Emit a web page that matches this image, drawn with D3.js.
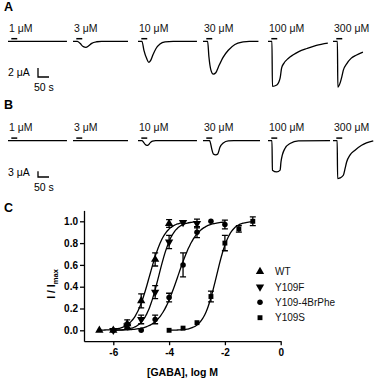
<!DOCTYPE html>
<html><head><meta charset="utf-8">
<script src="https://cdn.jsdelivr.net/npm/d3@7"></script>
<style>
html,body{margin:0;padding:0;background:#fff;}
svg{display:block;font-family:"Liberation Sans",Arial,sans-serif;}
</style></head>
<body>
<svg id="c" width="374" height="378"></svg>
<script>
// ---------- Panels A & B: current traces (time s, current μA) ----------
const concentrations = ["1 μM","3 μM","10 μM","30 μM","100 μM","300 μM"];

const traceA_1   = [[0,0],[268,0]];
const traceA_3   = [[0,0],[20,0],[32,-0.45],[47,-1.2],[59,-1.35],[70,-1.05],[85,-0.45],[108,-0.1],[130,0],[250,0]];
const traceA_10  = [[0,0],[18,0],[27,-2.0],[40,-3.9],[49,-4.7],[57,-4.3],[68,-3.0],[82,-1.6],[100,-0.6],[123,-0.15],[160,0],[268,0]];
const traceA_30  = [[0,0],[21,0],[27,-3.5],[36,-6.4],[47,-7.3],[58,-7.0],[70,-5.7],[92,-3.5],[115,-2.0],[145,-0.7],[183,-0.15],[210,0],[252,0]];
const traceA_100 = [[0,0],[18,0],[20,-10],[40,-9.7],[55,-8.2],[62,-5.9],[72,-4.9],[92,-3.8],[115,-3.0],[140,-2.3],[177,-1.6],[220,-0.9],[272,-0.4]];
const traceA_300 = [[0,0],[20,0],[22,-10.2],[32,-9.3],[40,-7.9],[47,-6.4],[62,-5.0],[82,-3.8],[105,-3.1],[136,-2.4]];

const traceB_1   = [[0,0],[268,0]];
const traceB_3   = [[0,0],[250,0]];
const traceB_10  = [[0,0],[18,0],[25,-0.8],[33,-2.0],[40,-2.5],[48,-2.1],[56,-1.0],[66,-0.25],[80,0],[268,0]];
const traceB_30  = [[0,0],[30,0],[40,-4.4],[47,-7.0],[58,-7.5],[67,-7.0],[77,-3.5],[92,-1.2],[115,-0.1],[140,0],[259,0]];
const traceB_100 = [[0,0],[18,0],[20,-15.5],[40,-16.4],[55,-15.5],[59,-11.2],[65,-7.6],[77,-4.1],[100,-1.5],[138,-0.1],[282,0]];
const traceB_300 = [[0,0],[19,0],[21,-19.9],[32,-19.6],[47,-18.2],[55,-14.6],[62,-11.2],[77,-7.6],[100,-5.0],[130,-2.4],[183,-0.1]];

const tracesA = [traceA_1,traceA_3,traceA_10,traceA_30,traceA_100,traceA_300];
const tracesB = [traceB_1,traceB_3,traceB_10,traceB_30,traceB_100,traceB_300];
const applicationBar = [15, 42];   // seconds
const scaleBarA = {current: 2, time: 50, label: "2 μA"};
const scaleBarB = {current: 3, time: 50, label: "3 μA"};

// ---------- Panel C: dose-response ----------
const seriesNames = ["WT","Y109F","Y109-4BrPhe","Y109S"];
const wtLogC   = [-6.5,-6,-5.5,-5,-4.5,-4];
const wtMean   = [0.0,0.0,0.06,0.27,0.65,0.98];
const wtSem    = [0,0,0.035,0.065,0.06,0.035];
const fLogC    = [-6,-5.5,-5,-4.5,-4,-3.5,-3];
const fMean    = [0.0,0.04,0.10,0.35,0.81,0.99,0.98];
const fSem     = [0,0.025,0.04,0.06,0.06,0,0.04];
const brLogC   = [-6,-5,-4.5,-4,-3.5,-3,-2.5,-2];
const brMean   = [0.0,0.0,0.10,0.30,0.60,0.90,1.0,0.97];
const brSem    = [0,0,0.04,0.04,0.11,0.05,0,0.04];
const sLogC    = [-4,-3.5,-3,-2.5,-2,-1.5,-1];
const sMean    = [0.0,0.02,0.07,0.31,0.80,0.93,1.0];
const sSem     = [0,0,0,0.05,0.07,0.03,0.04];
// Hill fit parameters: [logEC50, Hill slope, x from, x to]
const fitWT = [-4.7,1.6,-6.5,-3.5];
const fitF  = [-4.37,1.75,-6,-3];
const fitBr = [-3.68,1.3,-6,-2];
const fitS  = [-2.3,1.85,-4,-1];
const xTicks = [-6,-4,-2,0];
const yTicks = [0,0.2,0.4,0.6,0.8,1.0];

const svg = d3.select("#c");
const FONT = '"Liberation Sans",Arial,sans-serif';

// panel letters
[["A",11],["B",109],["C",212]].forEach(([t,y])=>{
  svg.append("text").attr("x",4).attr("y",y).attr("font-size",12.5).attr("font-weight","bold").text(t);
});

const tScale = d3.scaleLinear().domain([0,50]).range([0,11]);
const xOffset = d3.scalePoint().domain(concentrations).range([8,333]);

function drawTraces(traces, base, yScale, labelY, sb, sbY){
  const g = svg.append("g");
  traces.forEach((tr,i)=>{
    const off = xOffset(concentrations[i]);
    const line = d3.line().x(d=>off+tScale(d[0])).y(d=>yScale(d[1])).curve(d3.curveMonotoneX);
    g.append("path").attr("d",line(tr)).attr("fill","none").attr("stroke","#000").attr("stroke-width",1.3);
    g.append("line").attr("x1",off+tScale(applicationBar[0])).attr("x2",off+tScale(applicationBar[1]))
      .attr("y1",base-2.6).attr("y2",base-2.6).attr("stroke","#000").attr("stroke-width",1.5);
    g.append("text").attr("x",off+1).attr("y",labelY).attr("font-size",10.5).attr("fill","#111").text(concentrations[i]);
  });
  // scale bar
  const sx = 38, sy = sbY;
  const h = yScale(-sb.current)-yScale(0);
  const w = tScale(sb.time);
  g.append("path").attr("d",`M${sx},${sy-h}V${sy}H${sx+w}`).attr("fill","none").attr("stroke","#000").attr("stroke-width",1.3);
  g.append("text").attr("x",8).attr("y",sy-1).attr("font-size",10.5).text(sb.label);
  g.append("text").attr("x",34).attr("y",sy+14).attr("font-size",10.5).text(sb.time+" s");
}
const yA = d3.scaleLinear().domain([0,-2]).range([41.3,50.3]);
const yB = d3.scaleLinear().domain([0,-3]).range([140.7,146.4]);
drawTraces(tracesA, 41.3, yA, 32, scaleBarA, 77);
drawTraces(tracesB, 140.7, yB, 131, scaleBarB, 177);

// ---------- Panel C ----------
const x = d3.scaleLinear().domain([-7.05,0]).range([84,280.7]);
const y = d3.scaleLinear().domain([-0.1,1.1]).range([341.2,210.4]);
const gC = svg.append("g");

const xAxis = gC.append("g").attr("transform",`translate(0,${y(-0.1)})`)
  .call(d3.axisBottom(x).tickValues(xTicks).tickSize(4).tickSizeOuter(0).tickPadding(4).tickFormat(d3.format("d")));
const yAxis = gC.append("g").attr("transform",`translate(${x(-7.05)},0)`)
  .call(d3.axisLeft(y).tickValues(yTicks).tickSize(4).tickSizeOuter(0).tickPadding(2).tickFormat(d3.format(".1f")));
[xAxis,yAxis].forEach(a=>{
  a.selectAll("path,line").attr("stroke","#000").attr("stroke-width",1.3);
  a.selectAll("text").attr("font-family",FONT).attr("font-size",10).attr("font-weight","bold").attr("fill","#000");
});
xAxis.selectAll("text").text(d=> d<0 ? "-"+Math.abs(d) : d);

gC.append("text").attr("x",182.5).attr("y",376).attr("text-anchor","middle")
  .attr("font-size",10.5).attr("font-weight","bold").text("[GABA], log M");
const yt = gC.append("text").attr("transform","translate(55,284) rotate(-90)").attr("text-anchor","middle")
  .attr("font-size",10.5).attr("font-weight","bold");
yt.append("tspan").text("I / I");
yt.append("tspan").attr("font-size",7.5).attr("dy",2.5).text("max");

const hill = (p,xv)=>1/(1+Math.pow(10,(p[0]-xv)*p[1]));
const series = [
  {name:seriesNames[0], lc:wtLogC, m:wtMean, s:wtSem, fit:fitWT, sym:d3.symbolTriangle, rot:0, size:30},
  {name:seriesNames[1], lc:fLogC,  m:fMean,  s:fSem,  fit:fitF,  sym:d3.symbolTriangle, rot:180, size:30},
  {name:seriesNames[2], lc:brLogC, m:brMean, s:brSem, fit:fitBr, sym:d3.symbolCircle, rot:0, size:24},
  {name:seriesNames[3], lc:sLogC,  m:sMean,  s:sSem,  fit:fitS,  sym:d3.symbolSquare, rot:0, size:24},
];
const curveLine = d3.line().x(d=>x(d[0])).y(d=>y(d[1])).curve(d3.curveBasis);
series.forEach(sr=>{
  const pts = d3.range(sr.fit[2], sr.fit[3]+1e-9, 0.05).map(v=>[v,hill(sr.fit,v)]);
  gC.append("path").attr("d",curveLine(pts)).attr("fill","none").attr("stroke","#000").attr("stroke-width",1.3);
});
series.forEach(sr=>{
  sr.lc.forEach((lc,i)=>{
    const m = sr.m[i], e = sr.s[i];
    if(e>0){
      const cx = x(lc);
      gC.append("path").attr("d",`M${cx},${y(m+e)}V${y(m-e)}M${cx-3},${y(m+e)}H${cx+3}M${cx-3},${y(m-e)}H${cx+3}`)
        .attr("stroke","#000").attr("stroke-width",1.3).attr("fill","none");
    }
    gC.append("path").attr("d",d3.symbol().type(sr.sym).size(sr.size)())
      .attr("transform",`translate(${x(lc)},${y(m)}) rotate(${sr.rot})`).attr("fill","#000");
  });
});
// legend
series.forEach((sr,i)=>{
  const ly = 271.5 + i*15.4;
  gC.append("path").attr("d",d3.symbol().type(sr.sym).size(sr.size)())
    .attr("transform",`translate(260,${ly}) rotate(${sr.rot})`).attr("fill","#000");
  gC.append("text").attr("x",275).attr("y",ly+3.6).attr("font-size",10).attr("fill","#111").text(sr.name);
});
</script>
</body></html>
